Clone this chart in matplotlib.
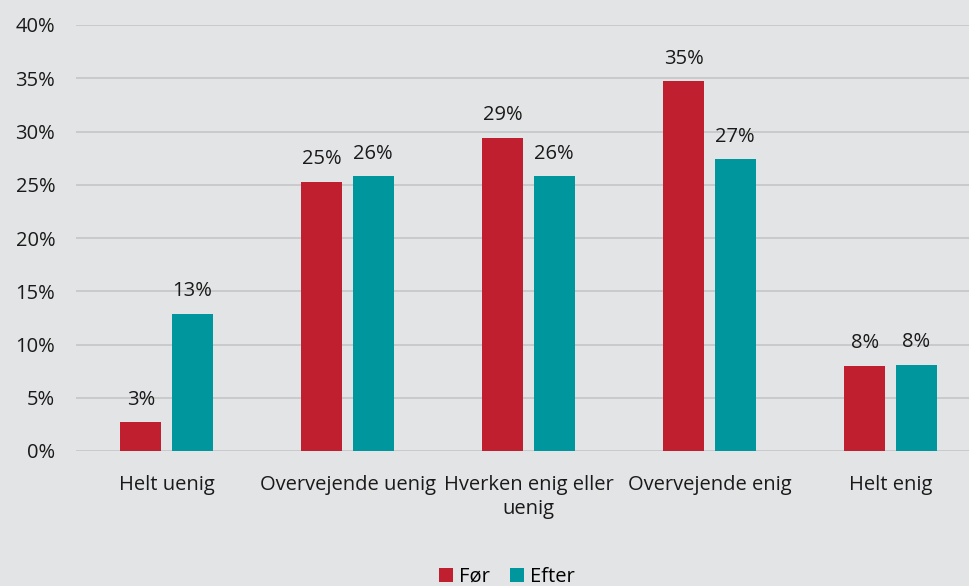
import numpy as np
import matplotlib
matplotlib.use("Agg")
import matplotlib.pyplot as plt
from matplotlib.ticker import FuncFormatter

categories = ["Helt uenig", "Overvejende uenig", "Hverken enig eller\nuenig",
              "Overvejende enig", "Helt enig"]
foer = [2.7, 25.3, 29.4, 34.7, 8.0]
efter = [12.9, 25.8, 25.8, 27.4, 8.1]
series_names = ["Før", "Efter"]

bg = "#E3E4E6"
red = "#C01F2F"
teal = "#00969E"
fs = 14.5

plt.rcParams["font.family"] = ["Open Sans", "DejaVu Sans"]

fig = plt.figure(figsize=(9.7, 5.86), dpi=100, facecolor=bg)
# plot area runs slightly past the right edge, as in the original
ax = fig.add_axes([76 / 970, (586 - 451) / 586, 905 / 970, 426 / 586])
ax.set_facecolor(bg)

x = np.arange(len(categories))
w = 0.226
off = 0.142
b1 = ax.bar(x - off, foer, w, color=red, label=series_names[0], zorder=3)
b2 = ax.bar(x + off, efter, w, color=teal, label=series_names[1], zorder=3)

for bars, vals in [(b1, foer), (b2, efter)]:
    for b, v in zip(bars, vals):
        ax.annotate("{:.0f}%".format(v), (b.get_x() + b.get_width() / 2, v),
                    xytext=(0, 9), textcoords="offset points",
                    ha="center", va="bottom", fontsize=fs, color="#1a1a1a")

ax.set_xlim(-0.5, len(categories) - 0.5)
ax.set_ylim(0, 40)
ax.set_yticks(np.arange(0, 41, 5))
ax.yaxis.set_major_formatter(FuncFormatter(lambda v, p: "{:.0f}%".format(v)))
ax.set_xticks(x)
ax.set_xticklabels(categories, linespacing=1.3)
ax.tick_params(axis="both", length=0, labelsize=fs, colors="#1a1a1a")
ax.tick_params(axis="x", pad=17)
ax.tick_params(axis="y", pad=15)
ax.grid(axis="y", color="#C4C5C7", linewidth=1.2, zorder=0)
for s in ax.spines.values():
    s.set_visible(False)

fig.legend(loc="center", bbox_to_anchor=(507 / 970, 1 - 577 / 586), ncol=2,
           frameon=False, fontsize=fs, handlelength=0.7, handleheight=0.7,
           handletextpad=0.3, columnspacing=1.0)

fig.savefig("out.png", dpi=100, facecolor=bg)
